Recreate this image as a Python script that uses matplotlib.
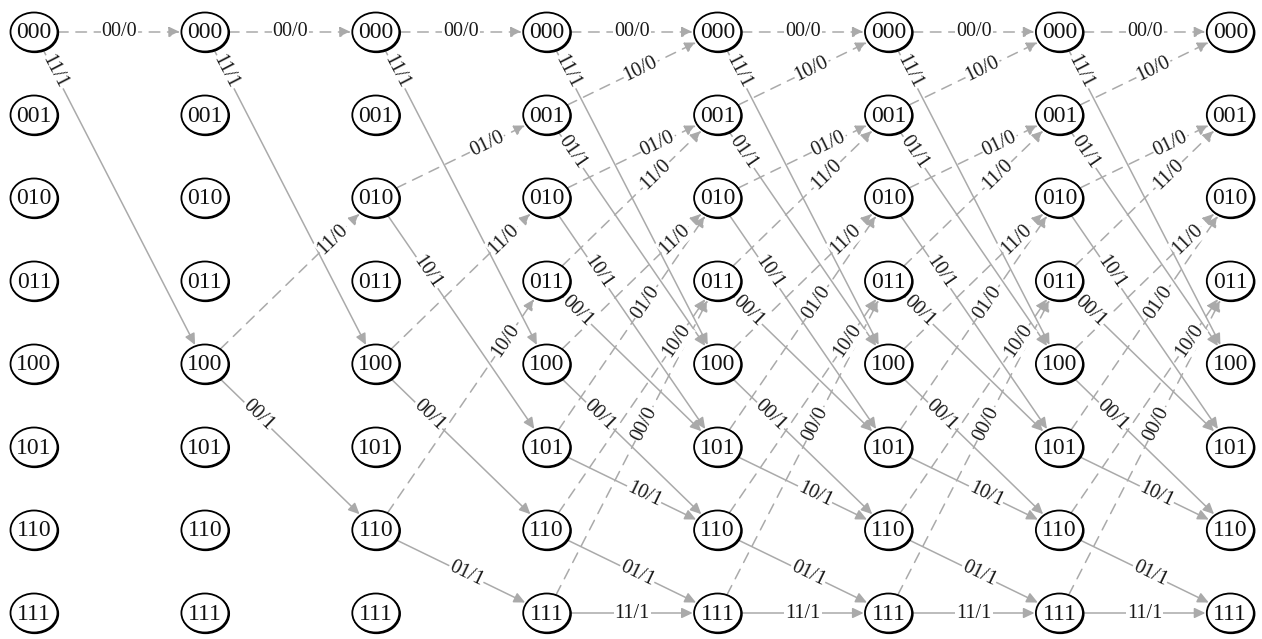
import numpy as np
import matplotlib.pyplot as plt
from matplotlib.patches import Ellipse, FancyArrowPatch

# Trellis de un código convolucional (8 estados, 8 etapas)
states = ['000', '001', '010', '011', '100', '101', '110', '111']
n_stages = 8

# estado siguiente y salida para entrada 0 / entrada 1
next_0 = ['000', '000', '001', '001', '010', '010', '011', '011']
next_1 = ['100', '100', '101', '101', '110', '110', '111', '111']
out_0 = ['00', '10', '01', '11', '11', '01', '10', '00']
out_1 = ['11', '01', '10', '00', '00', '10', '01', '11']

# posición de la etiqueta a lo largo de cada arista (fracción)
lab_t0 = [0.5, 0.55, 0.65, 0.64, 0.75, 0.58, 0.76, 0.57]
lab_t1 = [0.12, 0.15, 0.30, 0.18, 0.31, 0.57, 0.53, 0.5]

# geometría (en píxeles)
x0, dx = 34, 170.9
y0, dy = 32, 83.0
a, b = 23.5, 19.5   # semiejes de los nodos
edge_col = '#aaaaaa'

plt.rcParams['font.family'] = ['Liberation Serif', 'DejaVu Serif']

fig = plt.figure(figsize=(12.62, 6.39), dpi=100)
ax = fig.add_axes([0, 0, 1, 1])
ax.set_xlim(0, 1262)
ax.set_ylim(639, 0)
ax.set_aspect('equal')
ax.axis('off')


def pos(col, st):
    return x0 + dx * col, y0 + dy * states.index(st)


def border(p, q):
    # punto en el borde de la elipse centrada en p en dirección a q
    vx, vy = q[0] - p[0], q[1] - p[1]
    t = 1 / np.sqrt((vx / a) ** 2 + (vy / b) ** 2)
    return p[0] + vx * t, p[1] + vy * t


# estados alcanzables en cada etapa
reach = [{'000'}]
for c in range(n_stages - 1):
    nxt = set()
    for s in reach[-1]:
        i = states.index(s)
        nxt.add(next_0[i])
        nxt.add(next_1[i])
    reach.append(nxt)

for c in range(n_stages - 1):
    for s in sorted(reach[c]):
        i = states.index(s)
        for bit, nxt, out, tl in [(0, next_0[i], out_0[i], lab_t0[i]),
                                  (1, next_1[i], out_1[i], lab_t1[i])]:
            p = pos(c, s)
            q = pos(c + 1, nxt)
            pa = border(p, q)
            pb = border(q, p)
            ls = (0, (7, 5)) if bit == 0 else '-'
            arr = FancyArrowPatch(pa, pb, arrowstyle='-|>,head_length=0.55,head_width=0.26',
                                  mutation_scale=12, color=edge_col, lw=1.1,
                                  linestyle=ls, shrinkA=0, shrinkB=1, zorder=1)
            ax.add_patch(arr)
            lx = p[0] + (q[0] - p[0]) * tl
            ly = p[1] + (q[1] - p[1]) * tl
            ang = np.degrees(np.arctan2(-(q[1] - p[1]), q[0] - p[0]))
            ax.text(lx, ly, f'{out}/{bit}', fontsize=14.5, rotation=ang,
                    rotation_mode='anchor', ha='center', va='center',
                    color='#1a1a1a', zorder=2,
                    bbox=dict(boxstyle='square,pad=0.05', fc='white', ec='none'))

# nodos
for c in range(n_stages):
    for s in states:
        x, y = pos(c, s)
        ax.add_patch(Ellipse((x + 0.8, y + 0.8), 2 * a, 2 * b, fc='black', ec='black',
                             lw=1.2, zorder=3))
        ax.add_patch(Ellipse((x, y), 2 * a, 2 * b, fc='white', ec='black',
                             lw=1.3, zorder=4))
        ax.text(x, y + 1, s, fontsize=17, ha='center', va='center', zorder=5,
                color='#111111')

plt.savefig('out.png', dpi=100)
